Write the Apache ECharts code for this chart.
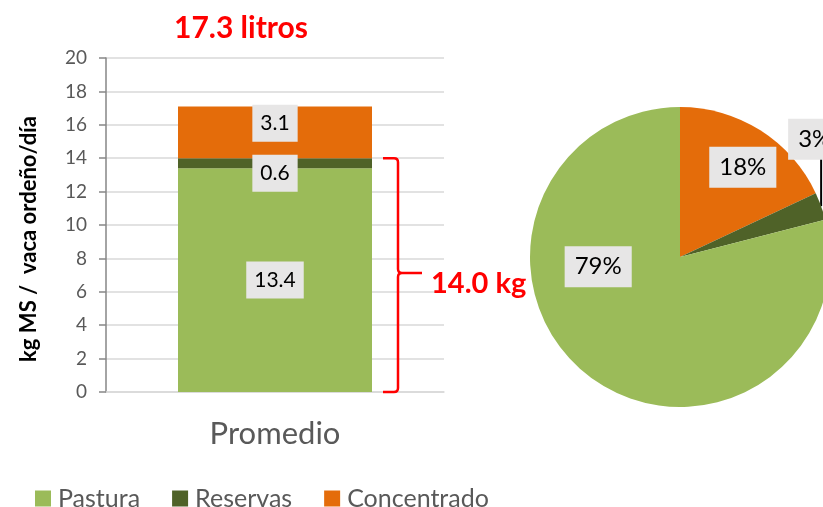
<!DOCTYPE html>
<html>
<head>
<meta charset="utf-8">
<script src="https://cdn.jsdelivr.net/npm/echarts@6/dist/echarts.min.js"></script>
<style>
  html, body { margin: 0; padding: 0; background: #fff; }
  #chart { width: 823px; height: 507px; }
</style>
</head>
<body>
<div id="chart"></div>
<script>
// chart values
const categories = ['Promedio'];
const seriesNames = ['Pastura', 'Reservas', 'Concentrado'];
const pastura = [13.4];
const reservas = [0.6];
const concentrado = [3.1];
// pie shares, clockwise from 12 o'clock
const pieNames = ['Concentrado', 'Reservas', 'Pastura'];
const pieShares = [18, 3, 79];
const titleText = '17.3 litros';

const COLORS = { Pastura: '#9bbb59', Reservas: '#4f6228', Concentrado: '#e46c0a' };
const FONT = 'Lato, "Open Sans", sans-serif';
const BAR_WIDTH = 194;

const myChart = echarts.init(document.getElementById('chart'));

const boxLabel = {
    show: true,
    position: 'inside',
    color: '#000',
    fontFamily: FONT,
    fontSize: 21,
    backgroundColor: '#e7e6e6',
    padding: [9, 8, 7, 8],
    formatter: p => p.value.toFixed(1)
};

const braceSum = pastura[0] + reservas[0];

const options = {
    animation: false,
    textStyle: { fontFamily: FONT },
    title: {
        text: titleText,
        left: 169,
        top: 8,
        textStyle: { color: '#ff0000', fontSize: 30, fontWeight: 'bold', fontFamily: FONT }
    },
    legend: {
        data: seriesNames,
        left: 30,
        top: 481,
        icon: 'rect',
        itemWidth: 16,
        itemHeight: 16,
        itemGap: 32,
        textStyle: { color: '#595959', fontSize: 25, fontFamily: FONT, padding: [0, 0, 0, 2] }
    },
    grid: { left: 106, right: 379, top: 58, bottom: 115 },
    xAxis: {
        type: 'category',
        data: categories,
        axisLine: { lineStyle: { color: '#d9d9d9', width: 1.5 } },
        axisTick: { show: false },
        axisLabel: { color: '#595959', fontSize: 31, margin: 26, fontFamily: FONT }
    },
    yAxis: {
        type: 'value',
        min: 0,
        max: 20,
        interval: 2,
        name: 'kg MS /  vaca ordeño/día',
        nameLocation: 'middle',
        nameGap: 66,
        nameTextStyle: { color: '#000', fontSize: 22, fontWeight: 'bold', fontFamily: FONT, padding: [0, 28, 0, 0] },
        axisLine: { show: true, lineStyle: { color: '#868686', width: 1.5 } },
        axisTick: { show: true, length: 7, lineStyle: { color: '#868686', width: 1.5 } },
        axisLabel: { color: '#595959', fontSize: 19, margin: 19, fontFamily: FONT },
        splitLine: { lineStyle: { color: '#d9d9d9', width: 1.5 } }
    },
    series: [
        {
            name: 'Pastura', type: 'bar', stack: 'total', barWidth: BAR_WIDTH,
            itemStyle: { color: COLORS.Pastura },
            label: boxLabel,
            data: pastura
        },
        {
            name: 'Reservas', type: 'bar', stack: 'total', barWidth: BAR_WIDTH,
            itemStyle: { color: COLORS.Reservas },
            label: Object.assign({}, boxLabel, { offset: [0, 10] }),
            data: reservas
        },
        {
            name: 'Concentrado', type: 'bar', stack: 'total', barWidth: BAR_WIDTH,
            itemStyle: { color: COLORS.Concentrado },
            label: Object.assign({}, boxLabel, { offset: [0, -9] }),
            data: concentrado
        },
        {
            // red brace spanning pastura + reservas
            type: 'custom',
            silent: true,
            z: 5,
            encode: { x: 0, y: [1, 2] },
            data: [[0, 0, braceSum]],
            renderItem: function (params, api) {
                const lo = api.coord([api.value(0), api.value(1)]);
                const hi = api.coord([api.value(0), api.value(2)]);
                const x = lo[0] + BAR_WIDTH / 2 + 26;
                const yb = lo[1], yt = hi[1], ym = (yb + yt) / 2 - 2;
                const r = 4;
                const d = 'M' + (x - 15) + ',' + yt + ' L' + (x - r) + ',' + yt +
                    ' Q' + x + ',' + yt + ' ' + x + ',' + (yt + r) +
                    ' L' + x + ',' + (ym - r) +
                    ' Q' + x + ',' + ym + ' ' + (x + r) + ',' + ym +
                    ' L' + (x + 24) + ',' + ym +
                    ' M' + (x + r) + ',' + ym +
                    ' Q' + x + ',' + ym + ' ' + x + ',' + (ym + r) +
                    ' L' + x + ',' + (yb - r) +
                    ' Q' + x + ',' + yb + ' ' + (x - r) + ',' + yb +
                    ' L' + (x - 15) + ',' + yb;
                return {
                    type: 'group',
                    children: [
                        {
                            type: 'path',
                            shape: { pathData: d },
                            style: { stroke: '#ff0000', lineWidth: 2.5, fill: 'none' }
                        },
                        {
                            type: 'text',
                            style: {
                                text: api.value(2).toFixed(1) + ' kg',
                                x: x + 33,
                                y: ym + 11,
                                verticalAlign: 'middle',
                                fill: '#ff0000',
                                font: 'bold 29px ' + FONT
                            }
                        }
                    ]
                };
            }
        },
        {
            type: 'pie',
            center: [680, 257],
            radius: 150,
            startAngle: 90,
            clockwise: true,
            legendHoverLink: false,
            label: {
                show: true,
                position: 'inside',
                formatter: '{c}%',
                color: '#000',
                fontFamily: FONT,
                fontSize: 24,
                backgroundColor: '#e7e6e6',
                padding: [10, 10, 7, 10]
            },
            labelLine: { show: true, lineStyle: { color: '#000', width: 2 } },
            labelLayout: function (p) {
                if (p.dataIndex === 0) return { dx: 21, dy: -24 };
                if (p.dataIndex === 2) return { dx: -34, dy: -52 };
                const a = p.labelLinePoints ? p.labelLinePoints[0] : [821, 206];
                return {
                    x: a[0] - 33,
                    y: a[1] - 67,
                    align: 'left',
                    verticalAlign: 'middle',
                    labelLinePoints: [[a[0], a[1]], [a[0], a[1] - 48], [a[0], a[1] - 48]]
                };
            },
            data: pieNames.map((n, i) => ({
                name: n,
                value: pieShares[i],
                itemStyle: { color: COLORS[n] },
                label: i === 1 ? { position: 'outside', alignTo: 'none', overflow: 'none', width: 80 } : undefined,
                labelLine: i === 1 ? { show: true, length: 10, length2: 10 } : { show: false }
            }))
        }
    ]
};

myChart.setOption(options);
</script>
</body>
</html>
